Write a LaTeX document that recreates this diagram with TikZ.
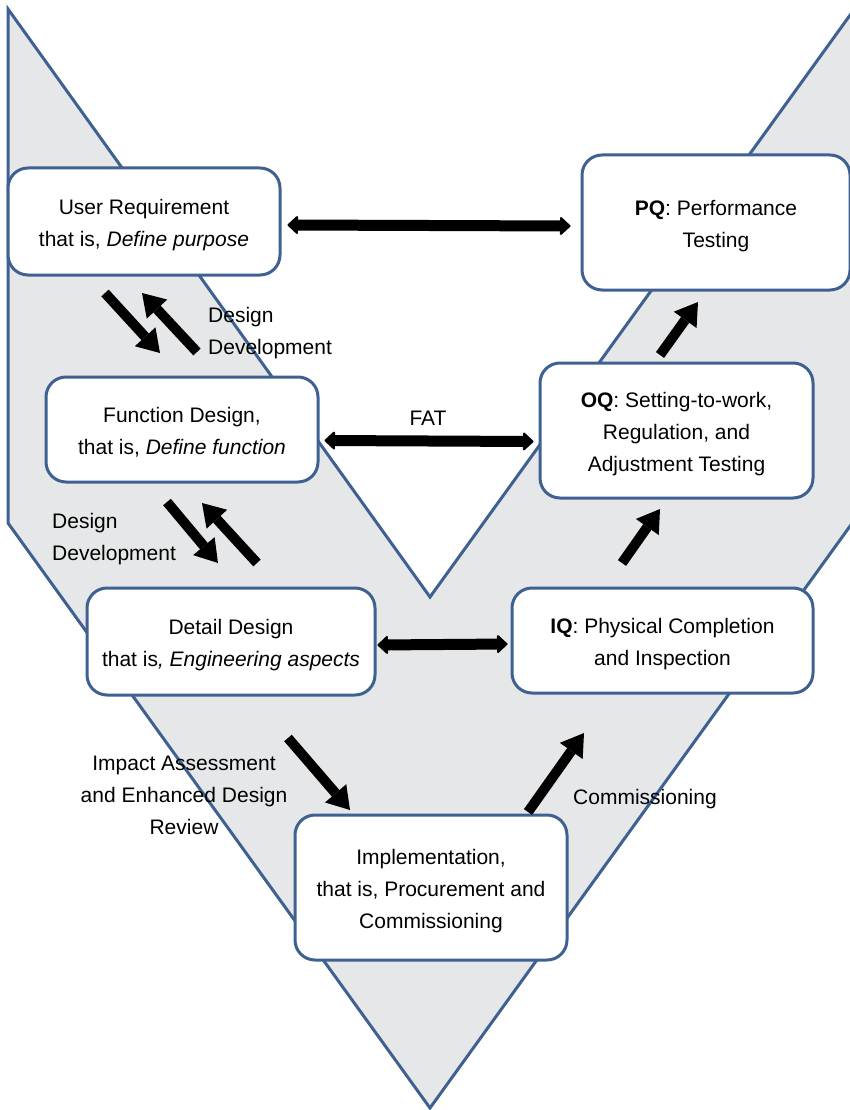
\documentclass[tikz,border=0pt]{standalone}
\usepackage{fontspec}
\setmainfont{Liberation Sans}
\usetikzlibrary{arrows.meta}
\definecolor{vblue}{RGB}{62,97,145}
\definecolor{vgray}{RGB}{230,231,232}
\newcommand{\topst}{\rule{0pt}{21.5pt}}
\tikzset{
  vbox/.style={draw=vblue, line width=3pt, rounded corners=20pt, fill=white,
    inner sep=0pt, align=center, font=\fontsize{21}{32}\selectfont},
  lbl/.style={inner sep=0pt, font=\fontsize{21}{32}\selectfont},
  fatarrow/.style={line width=10pt, -{Triangle[length=22pt,width=28pt,line width=0pt]}},
  dblarrow/.style={line width=11pt, {Triangle[round,length=11pt,width=20pt,line width=2pt]}-{Triangle[round,length=11pt,width=20pt,line width=2pt]}}
}
\begin{document}
\begin{tikzpicture}[x=1pt,y=-1pt]
\useasboundingbox (0,0) rectangle (850,1110);
% V shape
\draw[vblue, fill=vgray, line width=3pt]
  (8,9) -- (430,597) -- (853,11) -- (853,522) -- (430,1108) -- (8,523) -- cycle;

% boxes
\node[vbox, minimum width=272pt, minimum height=107pt] (ur) at (144,221.5)
  {\topst User Requirement\\that is, \textit{Define purpose}};
\node[vbox, minimum width=268pt, minimum height=135pt] (pq) at (716,222.5)
  {\topst\textbf{PQ}: Performance\\Testing};
\node[vbox, minimum width=272pt, minimum height=105pt] (fd) at (182,429.5)
  {\topst Function Design,\\that is, \textit{Define function}};
\node[vbox, minimum width=273pt, minimum height=135pt] (oq) at (676.5,430.5)
  {\topst\textbf{OQ}: Setting-to-work,\\Regulation, and\\Adjustment Testing};
\node[vbox, minimum width=288pt, minimum height=107pt] (dd) at (231,641.5)
  {\topst Detail Design\\that is\textit{, Engineering aspects}};
\node[vbox, minimum width=301pt, minimum height=105pt] (iq) at (662.5,640.5)
  {\topst\textbf{IQ}: Physical Completion\\and Inspection};
\node[vbox, minimum width=272pt, minimum height=145pt] (im) at (431,887.5)
  {\topst Implementation,\\that is, Procurement and\\Commissioning};

% horizontal double arrows
\draw[dblarrow] ([xshift=6pt,yshift=-3.5pt]ur.east) -- ([xshift=-10pt,yshift=-3.5pt]pq.west);
\draw[dblarrow] ([xshift=5pt,yshift=-11pt]fd.east) -- ([xshift=-5pt,yshift=-11pt]oq.west);
\draw[dblarrow] ([xshift=1pt,yshift=-3.5pt]dd.east) -- ([xshift=-3pt,yshift=-3.5pt]iq.west);

% diagonal arrows
\coordinate (a1s) at (105,293); \coordinate (a1e) at (160,353);
\coordinate (b1s) at (197,352); \coordinate (b1e) at (142,293);
\coordinate (a2s) at (167,502); \coordinate (a2e) at (218,563);
\coordinate (b2s) at (257,563); \coordinate (b2e) at (202,503);
\coordinate (a3s) at (288,738); \coordinate (a3e) at (350,810);
\coordinate (a4s) at (528,812); \coordinate (a4e) at (584,733);
\coordinate (a5s) at (622,563); \coordinate (a5e) at (660,509);
\coordinate (a6s) at (660,355); \coordinate (a6e) at (698,302);
\draw[fatarrow] (a1s) -- (a1e);
\draw[fatarrow] (b1s) -- (b1e);
\draw[fatarrow] (a2s) -- (a2e);
\draw[fatarrow] (b2s) -- (b2e);
\draw[fatarrow] (a3s) -- (a3e);
\draw[fatarrow] (a4s) -- (a4e);
\draw[fatarrow] (a5s) -- (a5e);
\draw[fatarrow] (a6s) -- (a6e);

% labels
\node[lbl, anchor=west, align=left] (dd1) at (208,333) {Design\\Development};
\node[lbl, anchor=west, align=left] (dd2) at (52,539) {Design\\Development};
\node[lbl, align=center] (ia) at (184,795) {Impact Assessment\\and Enhanced Design\\Review};
\node[lbl, anchor=west] (cm) at (573,799) {Commissioning};
\node[lbl] (fat) at (428,418) {FAT};
\end{tikzpicture}
\end{document}
